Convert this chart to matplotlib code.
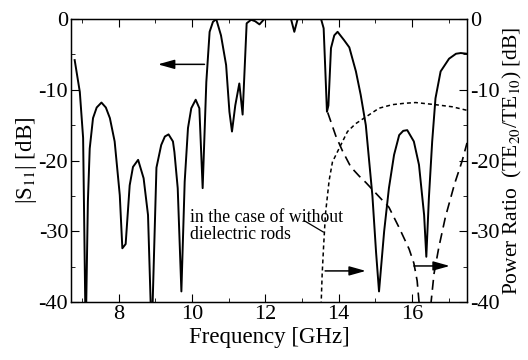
import numpy as np
import matplotlib
matplotlib.use("Agg")
import matplotlib.pyplot as plt
from matplotlib.ticker import MultipleLocator

plt.rcParams['font.family'] = ['Liberation Serif', 'DejaVu Serif']
plt.rcParams['mathtext.fontset'] = 'stix'
plt.rcParams['axes.unicode_minus'] = False

# |S11| with dielectric rods (left axis)
f_s11 = [6.80, 6.94, 7.03, 7.10, 7.16, 7.21, 7.30, 7.40, 7.53, 7.65, 7.76, 7.89,
         8.03, 8.10, 8.19, 8.30, 8.39, 8.53, 8.68, 8.80, 8.90, 9.03, 9.16, 9.26,
         9.36, 9.48, 9.52, 9.61, 9.71, 9.80, 9.89, 9.98, 10.10, 10.20, 10.29, 10.39,
         10.48, 10.57, 10.66, 10.79, 10.93, 11.02, 11.09, 11.18, 11.29, 11.38, 11.49,
         11.61, 11.72, 11.84, 11.97, 12.70, 12.79, 12.88, 13.52, 13.59, 13.63, 13.68,
         13.72, 13.79, 13.88, 13.97, 14.15, 14.29, 14.47, 14.60, 14.74, 14.92, 15.02,
         15.10, 15.24, 15.37, 15.51, 15.65, 15.76, 15.87, 16.05, 16.19, 16.33, 16.39,
         16.46, 16.55, 16.64, 16.78, 17.01, 17.20, 17.33, 17.50]
s11 = [-5.8, -10.3, -16.8, -45.0, -25.8, -18.3, -14.0, -12.5, -11.8, -12.5, -14.0, -17.3,
       -24.9, -32.4, -31.8, -23.5, -20.9, -19.9, -22.5, -27.7, -45.0, -21.0, -17.8, -16.6,
       -16.3, -17.3, -18.8, -23.9, -38.5, -23.0, -15.4, -12.6, -11.4, -12.6, -23.9, -8.9,
       -1.8, -0.4, 0.0, -2.3, -6.5, -13.1, -15.9, -12.2, -9.1, -13.5, -0.6,
       -0.1, -0.3, -0.75, 0.0, 0.0, -1.8, 0.0, 0.0, -1.3, -6.5, -13.1,
       -12.2, -4.1, -2.3, -1.8, -3.0, -4.0, -7.4, -10.7, -15.0, -25.0, -33.0,
       -38.5, -30.0, -23.9, -19.2, -16.4, -15.8, -15.7, -17.3, -20.6, -27.7, -33.6,
       -25.3, -17.3, -11.2, -7.4, -5.6, -4.9, -4.8, -4.9]

# power ratio TE20/TE10 without rods (right axis, short dashes)
f_wo = [13.52, 13.55, 13.59, 13.64, 13.74, 13.83, 14.01, 14.24, 14.46, 14.78, 15.10,
        15.46, 15.80, 16.10, 16.64, 17.10, 17.50]
pr_wo = [-40.5, -36.0, -32.0, -27.5, -22.8, -20.2, -18.3, -15.9, -14.8, -13.7, -12.6,
         -12.1, -11.9, -11.8, -12.1, -12.4, -12.9]

# power ratio with rods (right axis, long dashes), two branches
f_w1 = [13.70, 13.92, 14.10, 14.33, 14.56, 14.74, 15.01, 15.37, 15.65, 15.92, 16.05,
        16.14, 16.20]
pr_w1 = [-13.2, -16.5, -18.6, -20.9, -22.2, -23.1, -24.6, -26.6, -29.5, -32.5, -34.5,
         -37.0, -40.5]
f_w2 = [16.51, 16.60, 16.73, 16.91, 17.16, 17.37, 17.50]
pr_w2 = [-40.5, -36.0, -32.3, -28.0, -23.3, -20.0, -17.5]

fig = plt.figure(figsize=(5.28, 3.6), dpi=100)
ax = fig.add_axes([0.1345, 0.161, 0.75, 0.786])
ax2 = ax.twinx()

ax.plot(f_s11, s11, color='black', lw=1.4)
ax2.plot(f_wo, pr_wo, color='black', lw=1.1, linestyle=(0, (2.6, 2.0)))
ax2.plot(f_w1, pr_w1, color='black', lw=1.2, linestyle=(0, (6, 3.5)))
ax2.plot(f_w2, pr_w2, color='black', lw=1.2, linestyle=(0, (6, 3.5)))

for a in (ax, ax2):
    a.set_xlim(6.7, 17.5)
    a.set_ylim(-40, 0)
    a.yaxis.set_major_locator(MultipleLocator(10))
    a.yaxis.set_minor_locator(MultipleLocator(5))
ax.xaxis.set_major_locator(MultipleLocator(2))
ax.xaxis.set_minor_locator(MultipleLocator(1))

ax.tick_params(which='both', direction='in', top=True, right=False, labelsize=16,
               pad=2)
ax.tick_params(which='major', length=5.5)
ax.tick_params(which='minor', length=3)
ax2.tick_params(which='both', direction='in', labelsize=16, pad=2)
ax2.tick_params(which='major', length=5.5)
ax2.tick_params(which='minor', length=3)

ax.set_xlabel('Frequency [GHz]', fontsize=16.5, labelpad=2)
ax.set_ylabel(r'|S$_{11}$| [dB]', fontsize=16.5, labelpad=0)
ax2.set_ylabel(r'Power Ratio  (TE$_{20}$/TE$_{10}$) [dB]', fontsize=15.5, labelpad=1)

arrow = dict(arrowstyle='-|>,head_length=1.0,head_width=0.28', color='black',
             lw=1.1, shrinkA=0, shrinkB=0, mutation_scale=10)
ax.annotate('', xy=(9.07, -6.4), xytext=(10.34, -6.4), arrowprops=arrow)
ax.annotate('', xy=(14.74, -35.6), xytext=(13.63, -35.6), arrowprops=arrow)
ax.annotate('', xy=(17.03, -34.9), xytext=(16.05, -34.9), arrowprops=arrow)

ax.text(9.95, -26.9, 'in the case of without\ndielectric rods', fontsize=12.8,
        ha='left', va='top', linespacing=0.95)
ax.plot([13.06, 13.58], [-28.5, -30.1], color='black', lw=0.9)

for s in ax.spines.values():
    s.set_linewidth(1.0)

fig.savefig('out.png', dpi=100)
